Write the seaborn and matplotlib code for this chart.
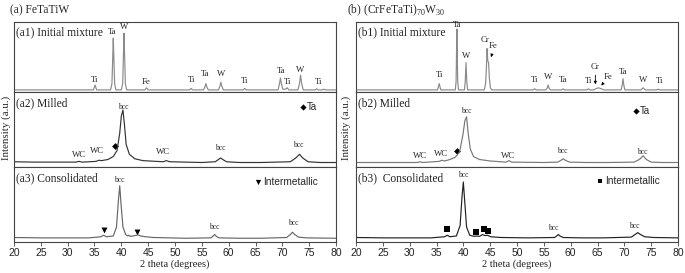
import numpy as np
import pandas as pd
import seaborn as sns
import matplotlib.pyplot as plt

# ---- data (2 theta in degrees, intensity normalised 0-1 per panel) ----
a1_x = [20, 30, 34.8, 35.1, 35.4, 38.0, 38.25, 38.4, 38.5, 38.6, 38.75, 39.0, 40.0, 40.25, 40.4, 40.5, 40.6, 40.75, 41.0,
        44.4, 44.7, 45.0, 52.7, 53.0, 53.3, 55.3, 55.6, 55.75, 55.9, 56.2, 58.1, 58.4, 58.55, 58.7, 59.0, 62.7, 63.0, 63.3,
        69.2, 69.5, 69.65, 69.8, 70.1, 70.6, 70.9, 71.2, 72.9, 73.2, 73.4, 73.6, 73.9, 76.1, 76.4, 76.7, 77.4, 77.7, 78.0, 80]
a1_y = [0.03, 0.03, 0.03, 0.10, 0.03, 0.03, 0.12, 0.5, 0.77, 0.5, 0.12, 0.03, 0.03, 0.12, 0.55, 0.84, 0.55, 0.12, 0.03,
        0.03, 0.06, 0.03, 0.03, 0.05, 0.03, 0.03, 0.08, 0.12, 0.08, 0.03, 0.03, 0.09, 0.14, 0.09, 0.03, 0.03, 0.05, 0.03,
        0.03, 0.13, 0.2, 0.13, 0.04, 0.04, 0.06, 0.03, 0.03, 0.12, 0.24, 0.12, 0.03, 0.03, 0.045, 0.03, 0.03, 0.04, 0.03, 0.03]

a2_x = [20, 24, 28, 31.5, 32.1, 32.7, 35.3, 35.8, 36.3, 37.5, 38.5, 39.2, 39.7, 40.0, 40.3, 40.6, 40.9, 41.5, 42.5, 44,
        47.8, 48.4, 49.0, 55, 57.5, 58.1, 58.5, 58.9, 59.6, 62, 66, 71.5, 72.5, 73.2, 73.8, 74.8, 77, 80]
a2_y = [0.07, 0.065, 0.065, 0.065, 0.075, 0.065, 0.075, 0.09, 0.085, 0.10, 0.14, 0.22, 0.45, 0.68, 0.76, 0.55, 0.30, 0.17,
        0.11, 0.085, 0.07, 0.085, 0.07, 0.06, 0.07, 0.10, 0.12, 0.10, 0.07, 0.06, 0.06, 0.07, 0.12, 0.17, 0.12, 0.07, 0.06, 0.06]

a3_x = [20, 25, 30, 34, 36.2, 36.7, 37.2, 38.5, 39.1, 39.45, 39.7, 39.95, 40.3, 40.8, 41.2, 41.4, 41.7, 42.5, 43.1, 43.6,
        44.5, 46, 52, 56.7, 57.1, 57.4, 57.7, 58.2, 62, 66, 70.8, 71.5, 71.9, 72.3, 73.0, 74.5, 80]
a3_y = [0.06, 0.055, 0.055, 0.055, 0.07, 0.09, 0.07, 0.08, 0.2, 0.55, 0.75, 0.5, 0.2, 0.1, 0.08, 0.09, 0.075, 0.085, 0.095,
        0.08, 0.07, 0.06, 0.05, 0.055, 0.08, 0.1, 0.075, 0.055, 0.05, 0.05, 0.06, 0.1, 0.13, 0.1, 0.065, 0.055, 0.05]

b1_x = [20, 30, 35.2, 35.5, 35.8, 38.5, 38.65, 38.73, 38.8, 38.87, 38.95, 39.1, 40.2, 40.35, 40.5, 40.65, 40.8,
        43.9, 44.15, 44.3, 44.42, 44.55, 44.7, 44.85, 45.05, 45.3, 53.0, 53.3, 53.6, 55.4, 55.65, 55.8, 55.95, 56.2,
        58.3, 58.6, 58.9, 63.0, 63.3, 63.6, 64.3, 64.8, 65.2, 65.7, 66.2, 69.4, 69.6, 69.75, 69.9, 70.1,
        73.1, 73.5, 73.9, 76.0, 76.3, 76.6, 80]
b1_y = [0.03, 0.03, 0.03, 0.12, 0.03, 0.03, 0.15, 0.55, 0.9, 0.55, 0.15, 0.03, 0.03, 0.14, 0.42, 0.14, 0.03,
        0.03, 0.12, 0.35, 0.62, 0.45, 0.42, 0.2, 0.06, 0.03, 0.03, 0.045, 0.03, 0.03, 0.06, 0.1, 0.06, 0.03,
        0.03, 0.045, 0.03, 0.03, 0.045, 0.03, 0.03, 0.05, 0.06, 0.045, 0.03, 0.03, 0.1, 0.19, 0.1, 0.03,
        0.03, 0.06, 0.03, 0.03, 0.04, 0.03, 0.03]

b2_x = [20, 25, 31.4, 31.9, 32.4, 35.5, 36.0, 36.5, 37.5, 38.5, 39.3, 39.9, 40.3, 40.6, 40.9, 41.3, 41.9, 43, 45,
        48.0, 48.5, 49.0, 55, 57.6, 58.2, 58.6, 59.0, 59.8, 63, 67, 71.8, 72.8, 73.5, 74.1, 75.0, 77, 80]
b2_y = [0.06, 0.06, 0.06, 0.07, 0.06, 0.075, 0.09, 0.08, 0.1, 0.13, 0.2, 0.42, 0.62, 0.67, 0.45, 0.24, 0.14, 0.1, 0.08,
        0.065, 0.085, 0.065, 0.06, 0.065, 0.09, 0.11, 0.09, 0.065, 0.06, 0.06, 0.065, 0.1, 0.15, 0.1, 0.065, 0.06, 0.06]

b3_x = [20, 25, 30, 34, 36.5, 37.0, 37.5, 38.7, 39.4, 39.75, 40.0, 40.25, 40.6, 41.2, 42.0, 42.5, 43.0, 43.6, 44.0, 44.5,
        45.1, 47, 52, 57.0, 57.4, 57.7, 58.0, 58.6, 62, 66, 71.3, 72.0, 72.5, 73.0, 73.8, 75.5, 80]
b3_y = [0.06, 0.055, 0.055, 0.055, 0.07, 0.09, 0.07, 0.08, 0.22, 0.6, 0.8, 0.55, 0.2, 0.09, 0.075, 0.08, 0.075, 0.1, 0.085,
        0.09, 0.07, 0.06, 0.055, 0.06, 0.08, 0.1, 0.08, 0.06, 0.055, 0.055, 0.065, 0.1, 0.125, 0.1, 0.07, 0.06, 0.055]

# peak labels: (text, x, y)
a1_labels = [("Ti", 35.1, 0.17), ("Ta", 38.2, 0.86), ("W", 40.6, 0.93), ("Fe", 44.7, 0.14), ("Ti", 53.0, 0.17),
             ("Ta", 55.7, 0.25), ("W", 58.5, 0.25), ("Ti", 63.0, 0.16), ("Ta", 69.7, 0.30), ("Ti", 71.0, 0.15),
             ("W", 73.4, 0.32), ("Ti", 76.8, 0.15)]
a2_labels = [("bcc", 40.3, 0.80), ("WC", 32.1, 0.16), ("WC", 35.5, 0.21), ("WC", 47.7, 0.20),
             ("bcc", 58.5, 0.25), ("bcc", 73.0, 0.29)]
a3_labels = [("bcc", 39.7, 0.82), ("bcc", 57.4, 0.20), ("bcc", 72.0, 0.25)]
b1_labels = [("Ti", 35.5, 0.24), ("Ta", 38.9, 0.96), ("W", 40.5, 0.51), ("Cr", 44.1, 0.75), ("Fe", 45.6, 0.66),
             ("Ti", 53.3, 0.17), ("W", 55.8, 0.21), ("Ta", 58.5, 0.17), ("Ti", 63.4, 0.16), ("Cr", 64.5, 0.36),
             ("Fe", 67.0, 0.21), ("Ta", 69.8, 0.29), ("W", 73.5, 0.17), ("Ti", 76.6, 0.16)]
b2_labels = [("bcc", 40.6, 0.75), ("WC", 31.9, 0.15), ("WC", 35.9, 0.18), ("WC", 48.3, 0.15),
             ("bcc", 58.5, 0.21), ("bcc", 73.4, 0.20)]
b3_labels = [("bcc", 40.0, 0.89), ("bcc", 56.7, 0.19), ("bcc", 71.8, 0.22)]

a2_ta_mark = [(38.75, 0.28)]
a3_im_mark = [(36.8, 0.16), (43.0, 0.13)]
b2_ta_mark = [(38.75, 0.21)]
b3_im_mark = [(37.0, 0.18), (42.4, 0.13), (43.8, 0.18), (44.6, 0.15)]

ticks = [20, 25, 30, 35, 40, 45, 50, 55, 60, 65, 70, 75, 80]

sns.set_theme(style="white")
plt.rcParams['font.family'] = ['Liberation Serif', 'DejaVu Serif']
plt.rcParams['axes.edgecolor'] = '#444444'
plt.rcParams['axes.linewidth'] = 0.8
plt.rcParams['xtick.bottom'] = True
plt.rcParams['xtick.direction'] = 'out'
plt.rcParams['xtick.major.size'] = 3
plt.rcParams['xtick.major.width'] = 0.6
plt.rcParams['xtick.color'] = '#444444'

fig = plt.figure(figsize=(6.85, 2.73), dpi=100)
W, H = 685.0, 273.0

def make_axes(x0_px, top_px, bot_px):
    return fig.add_axes([x0_px / W, 1 - bot_px / H, 322 / W, (bot_px - top_px) / H])

rows = [(22, 92), (92, 167), (167, 242)]
sans = ['Liberation Sans', 'DejaVu Sans']

def panel(ax, xs, ys, color, labels, name, bottom, lw=0.85):
    df = pd.DataFrame({"two_theta": xs, "intensity": ys})
    sns.lineplot(data=df, x="two_theta", y="intensity", ax=ax, color=color, lw=lw, sort=False)
    ax.set_xlim(20, 80)
    ax.set_ylim(0, 1)
    ax.set_yticks([])
    ax.set_xticks(ticks)
    ax.set_ylabel("")
    ax.set_xlabel("")
    if bottom:
        ax.tick_params(axis='x', labelsize=7.5, pad=1.5, labelcolor='#222222')
        for lab in ax.get_xticklabels():
            lab.set_family(sans)
        ax.set_xlabel("2 theta (degrees)", fontsize=7.5, labelpad=0.5, color='#222222')
    else:
        ax.tick_params(axis='x', labelbottom=False)
    for txt, x, y in labels:
        fs = 5.5 if txt == "bcc" else 6.3
        ax.text(x, y, txt, fontsize=fs, ha='center', va='center', color='#222222')
    ax.text(20.3, 0.85, name, fontsize=8.3, ha='left', va='center', color='#222222')

left = 14
right = 356
axs = [make_axes(left, *r) for r in rows]
bxs = [make_axes(right, *r) for r in rows]

panel(axs[0], a1_x, a1_y, '#8a8a8a', a1_labels, "(a1) Initial mixture", False)
panel(axs[1], a2_x, a2_y, '#333333', a2_labels, "(a2) Milled", False)
panel(axs[2], a3_x, a3_y, '#666666', a3_labels, "(a3) Consolidated", True)
panel(bxs[0], b1_x, b1_y, '#8a8a8a', b1_labels, "(b1) Initial mixture", False)
panel(bxs[1], b2_x, b2_y, '#777777', b2_labels, "(b2) Milled", False)
panel(bxs[2], b3_x, b3_y, '#222222', b3_labels, "(b3)  Consolidated", True)

# phase markers
for ax, pts, mk, sz in [(axs[1], a2_ta_mark, 'D', 12), (axs[2], a3_im_mark, 'v', 18),
                        (bxs[1], b2_ta_mark, 'D', 12), (bxs[2], b3_im_mark, 's', 14)]:
    mdf = pd.DataFrame(pts, columns=["x", "y"])
    sns.scatterplot(data=mdf, x="x", y="y", ax=ax, marker=mk, color='black', s=sz, linewidth=0)
    ax.set_ylabel("")

# in-panel legends
axs[1].scatter([73.8], [0.80], marker='D', s=10, color='black', linewidth=0)
axs[1].text(74.5, 0.80, "Ta", fontsize=7, family=sans, va='center')
axs[2].scatter([65.4], [0.80], marker='v', s=14, color='black', linewidth=0)
axs[2].text(66.4, 0.80, "Intermetallic", fontsize=7.3, family=sans, va='center')
bxs[1].scatter([72.1], [0.75], marker='D', s=10, color='black', linewidth=0)
bxs[1].text(72.8, 0.75, "Ta", fontsize=7, family=sans, va='center')
bxs[2].scatter([65.5], [0.82], marker='s', s=12, color='black', linewidth=0)
bxs[2].text(66.5, 0.82, "Intermetallic", fontsize=7.3, family=sans, va='center')
for ax in (axs[1], bxs[1]):
    ax.set_xlabel("")
axs[2].set_xlabel("2 theta (degrees)", fontsize=7.5, labelpad=0.5, color='#222222')
bxs[2].set_xlabel("2 theta (degrees)", fontsize=7.5, labelpad=0.5, color='#222222')

# arrows in b1
arrow = dict(arrowstyle='-|>', color='black', lw=0.6, mutation_scale=4)
bxs[0].annotate("", xy=(45.0, 0.46), xytext=(45.5, 0.58), arrowprops=arrow)
bxs[0].annotate("", xy=(64.6, 0.07), xytext=(64.6, 0.28), arrowprops=arrow)
bxs[0].annotate("", xy=(65.4, 0.06), xytext=(66.3, 0.15), arrowprops=arrow)

# titles and y labels
fig.text(10 / W, 1 - 10 / H, "(a) FeTaTiW", fontsize=8.3, va='center', ha='left')
fig.text(347 / W, 1 - 10 / H, r"(b) (CrFeTaTi)$_{\mathregular{70}}$W$_{\mathregular{30}}$", fontsize=8.3,
         va='center', ha='left')
fig.text(6 / W, 1 - 128 / H, "Intensity (a.u.)", fontsize=7.8, rotation=90, va='center', ha='center')
fig.text(346 / W, 1 - 128 / H, "Intensity (a.u.)", fontsize=7.8, rotation=90, va='center', ha='center')

fig.savefig("out.png", dpi=100)
